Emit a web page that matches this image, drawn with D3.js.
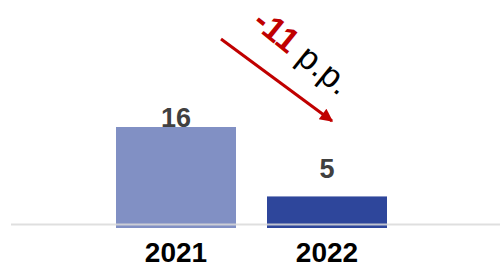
<!DOCTYPE html>
<html>
<head>
<meta charset="utf-8">
<script src="https://cdn.jsdelivr.net/npm/d3@7"></script>
<style>
  body { margin: 0; background: #fff; }
  svg { display: block; font-family: Arial, "Liberation Sans", sans-serif; }
</style>
</head>
<body>
<div id="chart"></div>
<script>
// data
const years = ["2021", "2022"];
const values = [16, 5];
const barColors = ["#8190c4", "#2e469b"];
const changeLabel = "-11";
const changeUnit = " p.p.";

const width = 500, height = 267;

const svg = d3.select("#chart").append("svg")
    .attr("width", width)
    .attr("height", height);

const x = d3.scaleBand()
    .domain(years)
    .range([116, 387])
    .paddingInner(31 / 151)
    .paddingOuter(0);

const y = d3.scaleLinear()
    .domain([0, 16])
    .range([228, 127]);

// bars
svg.selectAll(".bar")
    .data(values)
    .enter().append("rect")
    .attr("class", "bar")
    .attr("x", (d, i) => x(years[i]))
    .attr("y", d => y(d))
    .attr("width", x.bandwidth())
    .attr("height", d => y(0) - y(d))
    .attr("fill", (d, i) => barColors[i]);

// baseline, drawn over the bars
svg.append("line")
    .attr("x1", 11)
    .attr("x2", width)
    .attr("y1", 224.5)
    .attr("y2", 224.5)
    .attr("stroke", "#d9d9d9")
    .attr("stroke-opacity", 0.85)
    .attr("stroke-width", 2);

// value labels (first one sits on the bar top, second floats above)
const labelShift = [0, -18];
svg.selectAll(".value")
    .data(values)
    .enter().append("text")
    .attr("class", "value")
    .attr("x", (d, i) => x(years[i]) + x.bandwidth() / 2)
    .attr("y", (d, i) => y(d) + labelShift[i])
    .attr("text-anchor", "middle")
    .style("font-size", "27px")
    .style("font-weight", "bold")
    .style("fill", "#404040")
    .text(d => d);

// category labels
svg.selectAll(".year")
    .data(years)
    .enter().append("text")
    .attr("class", "year")
    .attr("x", d => x(d) + x.bandwidth() / 2)
    .attr("y", 262)
    .attr("text-anchor", "middle")
    .style("font-size", "28px")
    .style("font-weight", "bold")
    .style("fill", "#000")
    .text(d => d);

// arrow
svg.append("defs").append("marker")
    .attr("id", "head")
    .attr("viewBox", "0 -5 10 10")
    .attr("refX", 9)
    .attr("refY", 0)
    .attr("markerWidth", 15)
    .attr("markerHeight", 13)
    .attr("markerUnits", "userSpaceOnUse")
    .attr("orient", "auto")
    .append("path")
    .attr("d", "M0,-5L10,0L0,5Z")
    .attr("fill", "#c00000");

svg.append("line")
    .attr("x1", 221)
    .attr("y1", 39)
    .attr("x2", 332)
    .attr("y2", 121)
    .attr("stroke", "#c00000")
    .attr("stroke-width", 3)
    .attr("marker-end", "url(#head)");

const note = svg.append("text")
    .attr("transform", "translate(251,25) rotate(39)")
    .style("font-size", "34px");
note.append("tspan")
    .style("font-weight", "bold")
    .style("fill", "#c00000")
    .text(changeLabel);
note.append("tspan")
    .style("fill", "#000")
    .text(changeUnit);
</script>
</body>
</html>
